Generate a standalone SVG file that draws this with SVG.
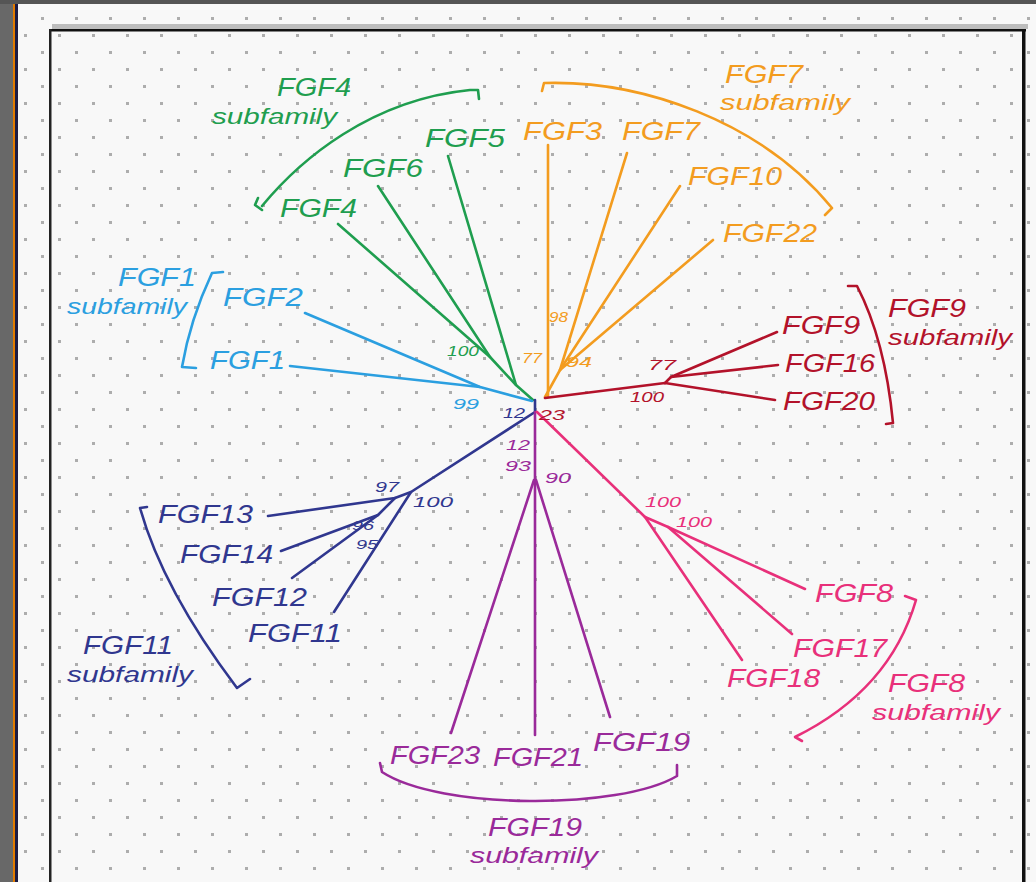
<svg xmlns="http://www.w3.org/2000/svg" width="1036" height="882" viewBox="0 0 1036 882">
<defs>
<pattern id="dots" patternUnits="userSpaceOnUse" x="24" y="0" width="34" height="34">
<rect x="0" y="0" width="3" height="3" fill="#adadad"/>
<rect x="17" y="17" width="3" height="3" fill="#adadad"/>
</pattern>
<style>
text{font-family:"Liberation Sans",Arial,sans-serif;font-style:italic;}
.lab{font-size:25px;}
.sub{font-size:22px;}
.bs{font-size:15px;}
.bss{font-size:13px;}
.ln{fill:none;stroke-width:2.6;stroke-linecap:round;stroke-linejoin:round;}
.br{fill:none;stroke-width:2.6;stroke-linecap:round;stroke-linejoin:round;}
.green{fill:#1f9e4f;stroke:#1f9e4f;}
.orange{fill:#f39c1f;stroke:#f39c1f;}
.red{fill:#b3122a;stroke:#b3122a;}
.blue{fill:#2b9fe0;stroke:#2b9fe0;}
.navy{fill:#30378f;stroke:#30378f;}
.purple{fill:#9a2a9a;stroke:#9a2a9a;}
.pink{fill:#e8307a;stroke:#e8307a;}
text.green,text.orange,text.red,text.blue,text.navy,text.purple,text.pink{stroke:none;}
path.green,path.orange,path.red,path.blue,path.navy,path.purple,path.pink,polyline.green,polyline.orange,polyline.red,polyline.blue,polyline.navy,polyline.purple,polyline.pink{fill:none;}
</style>
</defs>
<!-- background -->
<rect x="0" y="0" width="1036" height="882" fill="#f8f8f8"/>
<rect x="0" y="0" width="1036" height="882" fill="url(#dots)"/>
<rect x="0" y="0" width="13" height="882" fill="#686868"/>
<rect x="13" y="0" width="2" height="882" fill="#e07b00"/>
<rect x="15" y="0" width="3" height="882" fill="#1c1c44"/>
<rect x="0" y="0" width="1036" height="4" fill="#555"/>
<!-- frame -->
<rect x="52" y="24" width="976" height="5" fill="#bdbdbd"/>
<rect x="50" y="29" width="976" height="2.5" fill="#111"/>
<rect x="49" y="29" width="2.5" height="853" fill="#222"/>
<rect x="1022" y="29" width="3.5" height="853" fill="#111"/>

<g id="connectors">
<!-- green -->
<polyline class="ln green" points="338,224 490,357 516,385 533,400"/>
<polyline class="ln green" points="378,186 490,357"/>
<polyline class="ln green" points="448,156 516,385"/>
<!-- orange -->
<polyline class="ln orange" points="548,145 548,396"/>
<polyline class="ln orange" points="627,153 560,370 545,397"/>
<polyline class="ln orange" points="680,186 560,370"/>
<polyline class="ln orange" points="713,240 560,370"/>
<!-- red -->
<polyline class="ln red" points="545,398 665,383 775,400"/>
<polyline class="ln red" points="665,383 671,377 777,332"/>
<polyline class="ln red" points="671,377 778,365"/>
<!-- blue -->
<polyline class="ln blue" points="305,313 480,387 532,401"/>
<polyline class="ln blue" points="290,366 480,387"/>
<!-- navy -->
<polyline class="ln navy" points="535,400 535,412 411,492 334,612"/>
<polyline class="ln navy" points="411,492 395,498 268,516"/>
<polyline class="ln navy" points="395,498 378,515 281,551"/>
<polyline class="ln navy" points="378,515 292,578"/>
<!-- purple -->
<polyline class="ln purple" points="535,412 535,735"/>
<polyline class="ln purple" points="534,480 451,733"/>
<polyline class="ln purple" points="536,480 610,717"/>
<!-- pink -->
<polyline class="ln pink" points="537,412 645,517 742,660"/>
<polyline class="ln pink" points="645,517 668,527 805,589"/>
<polyline class="ln pink" points="668,527 792,634"/>
</g>

<g id="brackets">
<path class="br green" d="M258,198 L255,205 L262,210 M262,206 C300,160 370,100 470,90 L478,90 L479,99"/>
<path class="br orange" d="M542,91 L544,83 C640,80 760,120 832,208 L825,215"/>
<path class="br red" d="M848,286 L857,286 Q885,340 893,423 L886,424"/>
<path class="br blue" d="M223,272 L212,273 Q190,320 182,367 L196,368"/>
<path class="br navy" d="M147,507 L140,508 Q163,590 237,688 L250,679"/>
<path class="br pink" d="M905,596 L916,600 Q890,690 795,737 L802,741"/>
<path class="br purple" d="M380,763 L382,772 C440,810 620,810 677,776 L677,765"/>
</g>

<g id="bootstrap">
<text class="bs green" x="447" y="356" textLength="32" lengthAdjust="spacingAndGlyphs">100</text>
<text class="bs orange" x="549" y="322" textLength="19" lengthAdjust="spacingAndGlyphs">98</text>
<text class="bs orange" x="522" y="363" textLength="20" lengthAdjust="spacingAndGlyphs">77</text>
<text class="bs orange" x="566" y="367" textLength="26" lengthAdjust="spacingAndGlyphs">94</text>
<text class="bs blue" x="453" y="409" textLength="26" lengthAdjust="spacingAndGlyphs">99</text>
<text class="bs navy" x="503" y="418" textLength="22" lengthAdjust="spacingAndGlyphs">12</text>
<text class="bs red" x="539" y="420" textLength="26" lengthAdjust="spacingAndGlyphs">23</text>
<text class="bs red" x="648" y="370" textLength="28" lengthAdjust="spacingAndGlyphs">77</text>
<text class="bs red" x="630" y="402" textLength="34" lengthAdjust="spacingAndGlyphs">100</text>
<text class="bs purple" x="506" y="450" textLength="24" lengthAdjust="spacingAndGlyphs">12</text>
<text class="bs purple" x="505" y="471" textLength="26" lengthAdjust="spacingAndGlyphs">93</text>
<text class="bs purple" x="545" y="483" textLength="26" lengthAdjust="spacingAndGlyphs">90</text>
<text class="bs navy" x="375" y="492" textLength="24" lengthAdjust="spacingAndGlyphs">97</text>
<text class="bs navy" x="413" y="507" textLength="40" lengthAdjust="spacingAndGlyphs">100</text>
<text class="bss navy" x="352" y="530" textLength="22" lengthAdjust="spacingAndGlyphs">96</text>
<text class="bss navy" x="356" y="549" textLength="22" lengthAdjust="spacingAndGlyphs">95</text>
<text class="bs pink" x="645" y="507" textLength="36" lengthAdjust="spacingAndGlyphs">100</text>
<text class="bs pink" x="676" y="527" textLength="36" lengthAdjust="spacingAndGlyphs">100</text>
</g>

<g id="FGF4-subfamily"><text class="lab green" x="277" y="96" textLength="74" lengthAdjust="spacingAndGlyphs">FGF4</text><text class="sub green" x="212" y="124" textLength="125" lengthAdjust="spacingAndGlyphs">subfamily</text></g>
<g id="FGF5"><text class="lab green" x="425" y="147" textLength="80" lengthAdjust="spacingAndGlyphs">FGF5</text></g>
<g id="FGF6"><text class="lab green" x="343" y="177" textLength="80" lengthAdjust="spacingAndGlyphs">FGF6</text></g>
<g id="FGF4"><text class="lab green" x="280" y="217" textLength="77" lengthAdjust="spacingAndGlyphs">FGF4</text></g>

<g id="FGF7-subfamily"><text class="lab orange" x="725" y="83" textLength="78" lengthAdjust="spacingAndGlyphs">FGF7</text><text class="sub orange" x="720" y="110" textLength="130" lengthAdjust="spacingAndGlyphs">subfamily</text></g>
<g id="FGF3"><text class="lab orange" x="523" y="140" textLength="79" lengthAdjust="spacingAndGlyphs">FGF3</text></g>
<g id="FGF7"><text class="lab orange" x="622" y="140" textLength="78" lengthAdjust="spacingAndGlyphs">FGF7</text></g>
<g id="FGF10"><text class="lab orange" x="688" y="185" textLength="94" lengthAdjust="spacingAndGlyphs">FGF10</text></g>
<g id="FGF22"><text class="lab orange" x="723" y="242" textLength="94" lengthAdjust="spacingAndGlyphs">FGF22</text></g>

<g id="FGF9-subfamily"><text class="lab red" x="888" y="317" textLength="78" lengthAdjust="spacingAndGlyphs">FGF9</text><text class="sub red" x="888" y="345" textLength="124" lengthAdjust="spacingAndGlyphs">subfamily</text></g>
<g id="FGF9"><text class="lab red" x="782" y="334" textLength="78" lengthAdjust="spacingAndGlyphs">FGF9</text></g>
<g id="FGF16"><text class="lab red" x="785" y="372" textLength="90" lengthAdjust="spacingAndGlyphs">FGF16</text></g>
<g id="FGF20"><text class="lab red" x="783" y="410" textLength="92" lengthAdjust="spacingAndGlyphs">FGF20</text></g>

<g id="FGF1-subfamily"><text class="lab blue" x="118" y="286" textLength="78" lengthAdjust="spacingAndGlyphs">FGF1</text><text class="sub blue" x="67" y="314" textLength="120" lengthAdjust="spacingAndGlyphs">subfamily</text></g>
<g id="FGF2"><text class="lab blue" x="223" y="306" textLength="80" lengthAdjust="spacingAndGlyphs">FGF2</text></g>
<g id="FGF1"><text class="lab blue" x="210" y="369" textLength="75" lengthAdjust="spacingAndGlyphs">FGF1</text></g>

<g id="FGF11-subfamily"><text class="lab navy" x="83" y="654" textLength="90" lengthAdjust="spacingAndGlyphs">FGF11</text><text class="sub navy" x="67" y="682" textLength="126" lengthAdjust="spacingAndGlyphs">subfamily</text></g>
<g id="FGF13"><text class="lab navy" x="158" y="523" textLength="95" lengthAdjust="spacingAndGlyphs">FGF13</text></g>
<g id="FGF14"><text class="lab navy" x="180" y="563" textLength="93" lengthAdjust="spacingAndGlyphs">FGF14</text></g>
<g id="FGF12"><text class="lab navy" x="212" y="606" textLength="95" lengthAdjust="spacingAndGlyphs">FGF12</text></g>
<g id="FGF11"><text class="lab navy" x="248" y="642" textLength="94" lengthAdjust="spacingAndGlyphs">FGF11</text></g>

<g id="FGF8-subfamily"><text class="lab pink" x="888" y="692" textLength="77" lengthAdjust="spacingAndGlyphs">FGF8</text><text class="sub pink" x="872" y="720" textLength="128" lengthAdjust="spacingAndGlyphs">subfamily</text></g>
<g id="FGF8"><text class="lab pink" x="815" y="602" textLength="78" lengthAdjust="spacingAndGlyphs">FGF8</text></g>
<g id="FGF17"><text class="lab pink" x="793" y="657" textLength="94" lengthAdjust="spacingAndGlyphs">FGF17</text></g>
<g id="FGF18"><text class="lab pink" x="727" y="687" textLength="93" lengthAdjust="spacingAndGlyphs">FGF18</text></g>

<g id="FGF19-subfamily"><text class="lab purple" x="488" y="836" textLength="94" lengthAdjust="spacingAndGlyphs">FGF19</text><text class="sub purple" x="470" y="863" textLength="128" lengthAdjust="spacingAndGlyphs">subfamily</text></g>
<g id="FGF23"><text class="lab purple" x="390" y="764" textLength="90" lengthAdjust="spacingAndGlyphs">FGF23</text></g>
<g id="FGF21"><text class="lab purple" x="493" y="766" textLength="90" lengthAdjust="spacingAndGlyphs">FGF21</text></g>
<g id="FGF19"><text class="lab purple" x="593" y="751" textLength="97" lengthAdjust="spacingAndGlyphs">FGF19</text></g>
</svg>
